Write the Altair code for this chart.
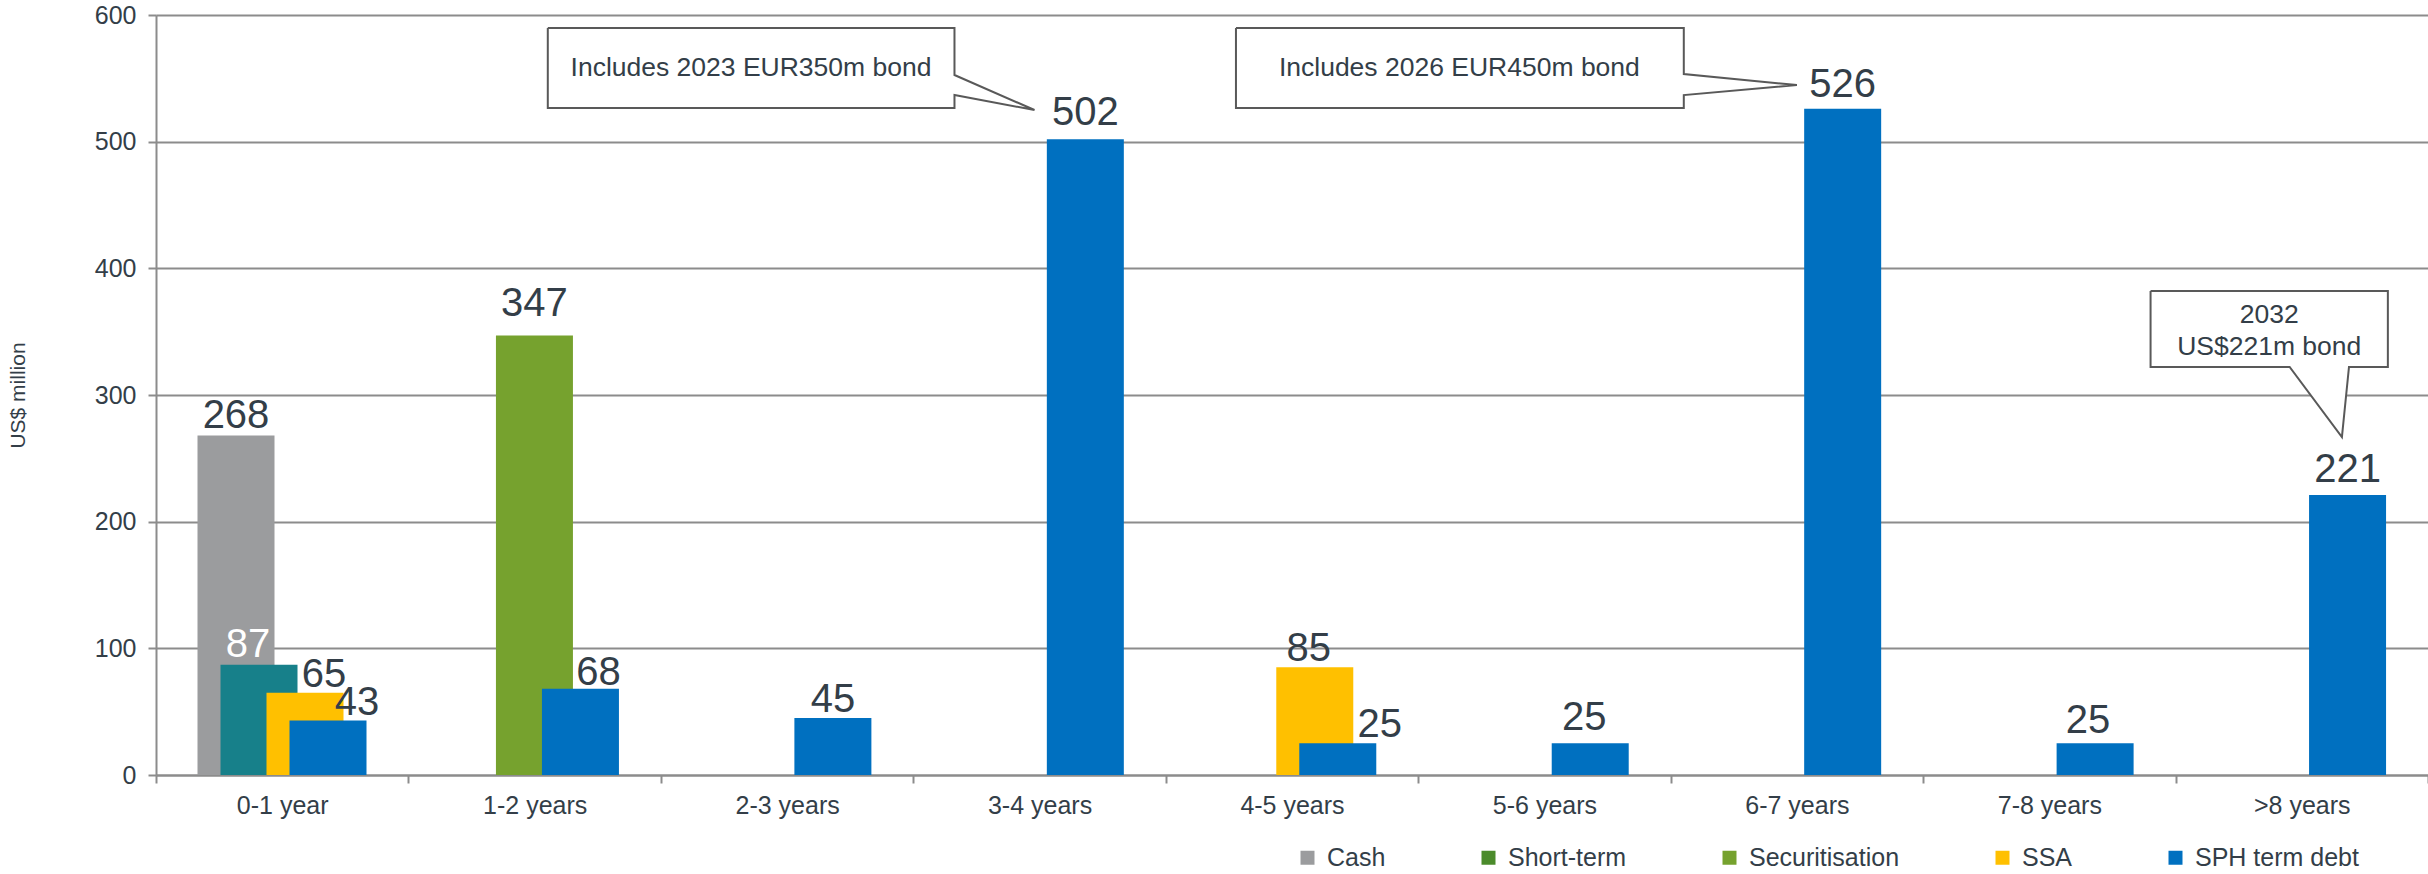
import altair as alt
import pandas as pd

# ---------------- data ----------------
categories = ["0-1 year", "1-2 years", "2-3 years", "3-4 years", "4-5 years",
              "5-6 years", "6-7 years", "7-8 years", ">8 years"]
series_names = ["Cash", "Short-term", "Securitisation", "SSA", "SPH term debt"]
cash = [268, None, None, None, None, None, None, None, None]
short_term = [87, None, None, None, None, None, None, None, None]
securitisation = [None, 347, None, None, None, None, None, None, None]
ssa = [65, None, None, None, 85, None, None, None, None]
sph_term_debt = [43, 68, 45, 502, 25, 25, 526, 25, 221]

series_colors = ["#9B9C9E", "#4B8B2B", "#76A22E", "#FFC000", "#0070C0"]
teal_override = "#17808A"
text_dark = "#333E48"
grid_gray = "#8C8C8C"
FONT = "Liberation Sans"

rows = []
for si, (name, vals) in enumerate(zip(series_names,
                                      [cash, short_term, securitisation, ssa, sph_term_debt])):
    for ci, v in enumerate(vals):
        if v is not None:
            rows.append({"cat": categories[ci], "series": name, "s": si, "value": v})
df = pd.DataFrame(rows)

# label nudges (style): (dx, dy) per (category, series)
label_nudge = {
    ("0-1 year", "Cash"): (0, -8),
    ("0-1 year", "Short-term"): (-11, -8),
    ("0-1 year", "SSA"): (19, -6),
    ("0-1 year", "SPH term debt"): (29, -6),
    ("1-2 years", "Securitisation"): (0, -19),
    ("1-2 years", "SPH term debt"): (18, -4),
    ("2-3 years", "SPH term debt"): (0, -6),
    ("3-4 years", "SPH term debt"): (0, -14),
    ("4-5 years", "SSA"): (-6, -6),
    ("4-5 years", "SPH term debt"): (42, -6),
    ("5-6 years", "SPH term debt"): (-6, -13),
    ("6-7 years", "SPH term debt"): (0, -12),
    ("7-8 years", "SPH term debt"): (-7, -10),
    (">8 years", "SPH term debt"): (0, -13),
}
white_labels = {("0-1 year", "Short-term")}

# callouts (data units: x on 0..9 category scale, y in US$ million)
callout_ids = [1, 2, 3]
callout_x0 = [1.552, 4.278, 7.901]
callout_x1 = [3.163, 6.052, 8.841]
callout_y0 = [526.6, 526.6, 322.1]
callout_y1 = [589.7, 589.7, 382.1]
callout_paths = [
    [(1.552, 589.7), (3.163, 589.7), (3.163, 552.6), (3.480, 525.0), (3.163, 536.8),
     (3.163, 526.6), (1.552, 526.6), (1.552, 589.7)],
    [(4.278, 589.7), (6.052, 589.7), (6.052, 553.4), (6.500, 544.7), (6.052, 536.8),
     (6.052, 526.6), (4.278, 526.6), (4.278, 589.7)],
    [(7.901, 382.1), (8.841, 382.1), (8.841, 322.1), (8.687, 322.1), (8.659, 266.8),
     (8.452, 322.1), (7.901, 322.1), (7.901, 382.1)],
]
tails_v = [  # (id, x, y_a, y_b) for side-pointing tails
    (1, 3.163, 552.6, 536.8), (1, 3.480, 525.0, 525.0),
    (2, 6.052, 553.4, 536.8), (2, 6.500, 544.7, 544.7),
]
tails_h = [  # (id, y, x_a, x_b) for downward tail
    (3, 322.1, 8.452, 8.687), (3, 266.8, 8.659, 8.659),
]
callout_texts = ["Includes 2023 EUR350m bond", "Includes 2026 EUR450m bond", "2032", "US$221m bond"]
callout_text_x = [2.357, 5.163, 8.371, 8.371]
callout_text_y = [558.2, 558.2, 363.2, 337.9]

# ---------------- encodings ----------------
x_band = alt.X(
    "cat:N", sort=categories,
    scale=alt.Scale(domain=categories, paddingInner=0, paddingOuter=0),
    axis=alt.Axis(title=None, labelAngle=0, tickBand="extent", labelFontSize=25,
                  labelColor=text_dark, labelPadding=10, tickSize=8, tickColor=grid_gray,
                  domainColor=grid_gray, tickWidth=2, domainWidth=2, grid=False,
                  labelFont=FONT),
)
x_off = alt.XOffset("s:Q", scale=alt.Scale(domain=[0, 4], range=[80, 172]))
y_enc = alt.Y(
    "value:Q", scale=alt.Scale(domain=[0, 600], nice=False),
    axis=alt.Axis(title="US$ million", values=[0, 100, 200, 300, 400, 500, 600],
                  grid=True, gridColor=grid_gray, gridWidth=2, tickSize=8, tickWidth=2,
                  tickColor=grid_gray, domainColor=grid_gray, domainWidth=2,
                  labelFontSize=25, labelColor=text_dark, labelPadding=12,
                  titleFontSize=21, titleFontWeight="normal", titleColor=text_dark,
                  titlePadding=66, labelFont=FONT, titleFont=FONT),
)

bars = alt.Chart(df).mark_bar(width=77).encode(
    x=x_band, xOffset=x_off, y=y_enc,
    color=alt.condition(
        "datum.cat == '0-1 year' && datum.series == 'Short-term'",
        alt.value(teal_override),
        alt.Color("series:N", sort=series_names,
                  scale=alt.Scale(domain=series_names, range=series_colors),
                  legend=alt.Legend(orient="none", legendX=1139, legendY=830,
                                    direction="horizontal", title=None,
                                    symbolType="square", symbolSize=196,
                                    symbolStrokeWidth=0, labelFontSize=25,
                                    labelColor=text_dark, labelFont=FONT,
                                    columnPadding=90, labelOffset=7, labelLimit=400)),
    ),
)

text_layers = []
for (cat, ser), (dx, dy) in label_nudge.items():
    col = "white" if (cat, ser) in white_labels else text_dark
    t = alt.Chart(df).transform_filter(
        f"datum.cat == '{cat}' && datum.series == '{ser}'"
    ).mark_text(dx=dx, dy=dy, fontSize=40, baseline="alphabetic", align="center",
                color=col, font=FONT).encode(
        x=x_band, xOffset=x_off, y=y_enc, text=alt.Text("value:Q")
    )
    text_layers.append(t)

main = alt.layer(bars, *text_layers)

# ---------------- callouts ----------------
xq = lambda f: alt.X(f, type="quantitative", scale=alt.Scale(domain=[0, 9], nice=False, zero=False), axis=None)
yq = lambda f: alt.Y(f, type="quantitative", axis=None)

box_df = pd.DataFrame({"id": callout_ids, "x0": callout_x0, "x1": callout_x1,
                       "y0": callout_y0, "y1": callout_y1})
boxes = alt.Chart(box_df).mark_rect(fill="white").encode(
    x=xq("x0"), x2="x1", y=yq("y0"), y2="y1")

path_rows = []
for cid, pts in zip(callout_ids, callout_paths):
    for o, (px, py) in enumerate(pts):
        path_rows.append({"id": cid, "o": o, "px": px, "py": py})
path_df = pd.DataFrame(path_rows)

tv_df = pd.DataFrame(tails_v, columns=["id", "tx", "ya", "yb"])
th_df = pd.DataFrame(tails_h, columns=["id", "ty", "xa", "xb"])
tail_v = alt.Chart(tv_df).mark_area(color="white", orient="vertical").encode(
    x=xq("tx"), y=yq("ya"), y2="yb", detail="id:N")
tail_h = alt.Chart(th_df).mark_area(color="white", orient="horizontal").encode(
    y=yq("ty"), x=xq("xa"), x2="xb", detail="id:N")

outline = alt.Chart(path_df).mark_line(color="#595959", strokeWidth=2,
                                       strokeJoin="miter").encode(
    x=xq("px"), y=yq("py"), order="o:Q", detail="id:N")

ct_df = pd.DataFrame({"label": callout_texts, "cx": callout_text_x, "cy": callout_text_y})
ctext = alt.Chart(ct_df).mark_text(fontSize=26.5, color=text_dark, align="center",
                                   baseline="middle", font=FONT).encode(
    x=xq("cx"), y=yq("cy"), text="label:N")

annot = alt.layer(boxes, tail_v, tail_h, outline, ctext)

chart = alt.layer(main, annot).resolve_scale(x="independent").resolve_axis(
    x="independent", y="independent"
).properties(
    width=2272, height=760,
    autosize=alt.AutoSizeParams(type="none"),
    padding={"left": 156, "top": 15, "right": 0, "bottom": 99},
).configure_view(stroke=None).configure(font=FONT, background="white")

chart.save("out.html", embed_options={"renderer": "svg", "actions": False})
